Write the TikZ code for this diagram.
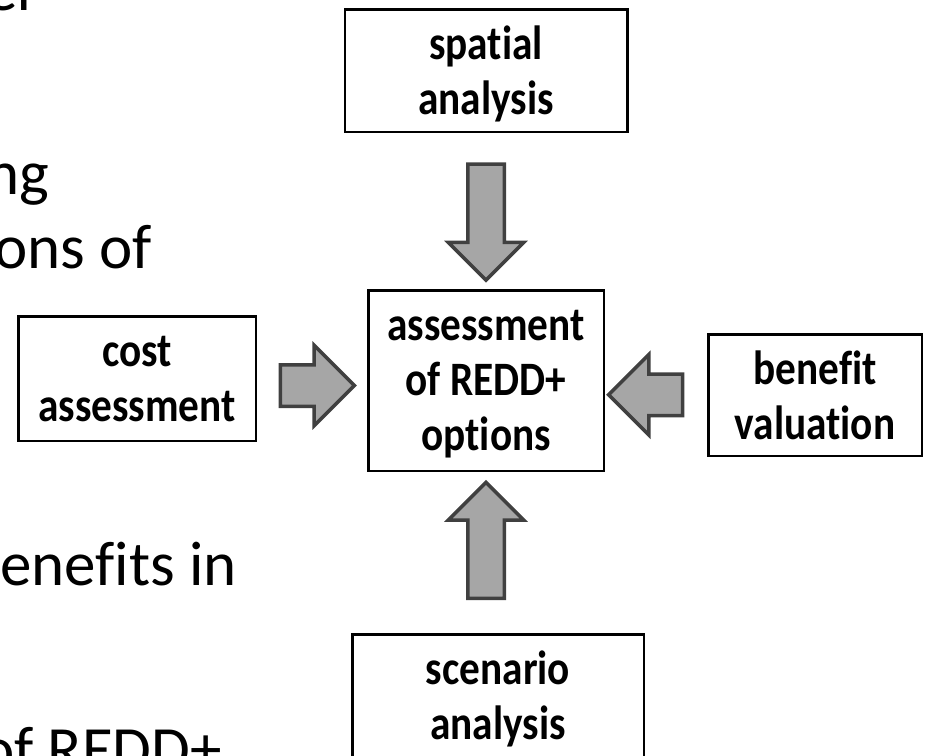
\documentclass[tikz,border=0pt]{standalone}
\usepackage{fontspec}
\setmainfont[Ligatures=NoCommon]{Carlito}
\newfontfamily\boxfont[FakeStretch=0.86, Ligatures=NoCommon]{Carlito}
\usepackage{tikz}
\usetikzlibrary{shapes.arrows,positioning,calc}

\definecolor{arrfill}{HTML}{A6A6A6}
\definecolor{arrline}{HTML}{404040}

\begin{document}
\begin{tikzpicture}[x=1pt, y=-1pt,
    box/.style={draw, line width=2.5pt, inner sep=0pt, align=center, text depth=0pt,
      font=\boxfont\bfseries\fontsize{48}{55}\selectfont},
    blockarr/.style={single arrow, draw=arrline, fill=arrfill, line width=3.5pt,
      inner sep=16.5pt, single arrow head extend=19.5pt, minimum height=#1},
    bodytext/.style={anchor=base east, inner sep=0pt, font=\fontsize{63}{76}\selectfont}]
  \useasboundingbox (0,0) rectangle (928,755);
  \clip (0,0) rectangle (928,755);

  % text of the slide behind the figure
  \node[bodytext] (TxtA) at (40,10) {er};
  \node[bodytext] (TxtB) at (49,194) {ng};
  \node[bodytext] (TxtC) at (152,268) {ons of};
  \node[bodytext] (TxtD) at (237,585) {enefits in};
  \node[bodytext] (TxtE) at (222,770) {of REDD+};

  % boxes
  \node[box, minimum width=235.5pt, minimum height=180.5pt] (Assess) at (486,380.5) {assessment\\of REDD+\\options};
  \node[box, minimum width=282.5pt, minimum height=122.5pt, above=156pt of Assess] (Spatial) {spatial\\analysis};
  \node[box, minimum width=237.5pt, minimum height=124.5pt, left=110pt of Assess, yshift=2pt] (Cost) {cost\\assessment};
  \node[box, minimum width=213.5pt, minimum height=121.5pt, right=102pt of Assess, yshift=-14.5pt] (Benefit) {benefit\\valuation};
  \node[box, minimum width=291.5pt, minimum height=122.5pt, below=161pt of Assess, xshift=12pt] (Scenario) {scenario\\analysis};

  % block arrows
  \node[blockarr=116pt, rotate=-90] (ArrSpatial) at ($(Spatial.south)!0.5!(Assess.north)+(0,2)$) {};
  \node[blockarr=116pt, rotate=90] (ArrScenario) at ($(Assess.south)!0.5!(Assess.south |- Scenario.north)+(0,-3)$) {};
  \node[blockarr=74pt, inner sep=19pt] (ArrCost) at ($(Cost.east)!0.5!(Assess.west)+(-5,6)$) {};
  \node[blockarr=74pt, inner sep=19pt, rotate=180] (ArrBenefit) at ($(Assess.east)!0.5!(Benefit.west)+(0,7)$) {};
\end{tikzpicture}
\end{document}
